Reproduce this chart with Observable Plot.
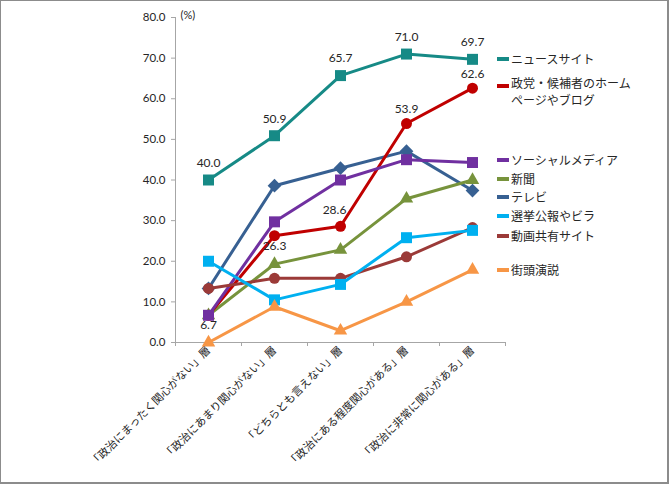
<!DOCTYPE html>
<html><head><meta charset="utf-8">
<script src="https://cdn.jsdelivr.net/npm/d3@7"></script>
<script src="https://cdn.jsdelivr.net/npm/@observablehq/plot@0.6"></script>
<style>
body{margin:0;background:#fff;}
#wrap{position:relative;width:669px;height:484px;overflow:hidden;background:#fff;}
#frame{position:absolute;left:0;top:0;width:669px;height:484px;box-sizing:border-box;border:1px solid #8c8c8c;border-right:2px solid #8c8c8c;border-bottom:2px solid #8c8c8c;pointer-events:none;}
.lg{position:absolute;left:497px;font-family:'Noto Sans CJK JP',sans-serif;font-size:12px;color:#262626;line-height:15px;white-space:nowrap;}
.lg .mk{position:absolute;left:0;top:6px;width:12px;height:4px;}
.lg .tx{position:absolute;left:14px;top:0;display:block;}
</style></head>
<body>
<div id="wrap"><div id="frame"></div></div>
<script>
const categories = ["「政治にまったく関心がない」層", "「政治にあまり関心がない」層", "「どちらとも言えない」層", "「政治にある程度関心がある」層", "「政治に非常に関心がある」層"];
const seriesNames = ["ニュースサイト", "政党・候補者のホームページやブログ", "ソーシャルメディア", "新聞", "テレビ", "選挙公報やビラ", "動画共有サイト", "街頭演説"];
const newsSite = [40.0, 50.9, 65.7, 71.0, 69.7];
const partyWeb = [6.7, 26.3, 28.6, 53.9, 62.6];
const socialMedia = [6.7, 29.7, 40.0, 45.0, 44.3];
const newspaper = [6.7, 19.3, 22.8, 35.4, 40.0];
const tv = [13.3, 38.6, 42.9, 47.1, 37.4];
const bulletin = [20.0, 10.5, 14.3, 25.8, 27.6];
const videoSharing = [13.3, 15.8, 15.8, 21.1, 28.3];
const streetSpeech = [0.0, 8.8, 2.9, 10.0, 17.9];
const yTicks = [0, 10, 20, 30, 40, 50, 60, 70, 80];

// styles
const seriesValues = [newsSite, partyWeb, socialMedia, newspaper, tv, bulletin, videoSharing, streetSpeech];
const colors = ["#168a86", "#c00000", "#7030a0", "#77933c", "#376092", "#00b0f0", "#9b3a38", "#f79646"];
const symbols = ["square", "circle", "square", "triangle", "diamond2", "square", "circle", "triangle"];
const drawOrder = [4, 3, 1, 2, 6, 5, 7, 0];
const legendLines = [["ニュースサイト"], ["政党・候補者のホーム", "ページやブログ"], ["ソーシャルメディア"], ["新聞"], ["テレビ"], ["選挙公報やビラ"], ["動画共有サイト"], ["街頭演説"]];
const legendTop = [51, 75, 152, 171, 189, 208, 228, 262];
const legendMarkTop = [6, 9, 6, 6, 6, 6, 6, 6];

const rows = s => seriesValues[s].map((v, i) => ({x: i + 0.5, y: v, name: seriesNames[s], i}));
const radius = {circle: 5.5, triangle: 5, square: 6.2, diamond2: 6.2};

const seriesMarks = drawOrder.flatMap(s => [
  Plot.line(rows(s), {x: "x", y: "y", stroke: colors[s], strokeWidth: 3}),
  Plot.dot(rows(s), {x: "x", y: "y", fill: colors[s], symbol: () => symbols[s], r: radius[symbols[s]]})
]);

const labelFont = {fontFamily: "Lato, sans-serif", fontSize: 12, fill: "#262626"};
const chart = Plot.plot({
  width: 669, height: 484,
  marginLeft: 175, marginRight: 164, marginTop: 17, marginBottom: 142,
  style: {fontFamily: "Lato, 'Noto Sans CJK JP', sans-serif", fontSize: "11px", background: "transparent", overflow: "visible"},
  x: {domain: [0, 5]},
  y: {domain: [0, 80]},
  marks: [
    Plot.ruleY([0], {stroke: "#a6a6a6"}),
    Plot.ruleX([0], {stroke: "#a6a6a6"}),
    Plot.axisY({ticks: yTicks, tickFormat: d3.format(".1f"), tickSize: 4, tickPadding: 6, stroke: "#a6a6a6", fill: "#262626", fontSize: 11.5, label: null}),
    Plot.axisX({ticks: d3.range(0, 6), tickFormat: () => "", tickSize: 4, stroke: "#a6a6a6", label: null}),
    Plot.axisX({ticks: categories.map((c, i) => i + 0.5), tickFormat: d => categories[Math.round(d - 0.5)], tickSize: 0, tickPadding: 6, tickRotate: -45, fontFamily: "'Noto Sans CJK JP', sans-serif", fontSize: 11, fill: "#262626", label: null}),
    ...seriesMarks,
    Plot.text(rows(0), {x: "x", y: "y", text: d => d.y.toFixed(1), dy: -17, ...labelFont}),
    Plot.text(rows(1).filter(d => d.i < 2), {x: "x", y: "y", text: d => d.y.toFixed(1), dy: 10, ...labelFont}),
    Plot.text(rows(1).filter(d => d.i === 2), {x: "x", y: "y", text: d => d.y.toFixed(1), dy: -16, dx: -6, ...labelFont}),
    Plot.text(rows(1).filter(d => d.i > 2), {x: "x", y: "y", text: d => d.y.toFixed(1), dy: -14, ...labelFont}),
    Plot.text(["(%)"], {frameAnchor: "top-left", textAnchor: "start", lineAnchor: "middle", dx: 5, dy: -2, fontFamily: "Lato, sans-serif", fontSize: 11, fill: "#262626"})
  ]
});
const wrap = document.getElementById("wrap");
chart.style.position = "absolute";
chart.style.left = "0px";
chart.style.top = "0px";
wrap.insertBefore(chart, wrap.firstChild);

seriesNames.forEach((n, s) => {
  const d = document.createElement("div");
  d.className = "lg";
  d.style.top = legendTop[s] + "px";
  const mk = document.createElement("span");
  mk.className = "mk";
  mk.style.background = colors[s];
  mk.style.top = legendMarkTop[s] + "px";
  d.appendChild(mk);
  legendLines[s].forEach((line, k) => {
    const tx = document.createElement("span");
    tx.className = "tx";
    tx.style.top = (k * 17) + "px";
    tx.textContent = line;
    d.appendChild(tx);
  });
  wrap.appendChild(d);
});
</script>
</body></html>
